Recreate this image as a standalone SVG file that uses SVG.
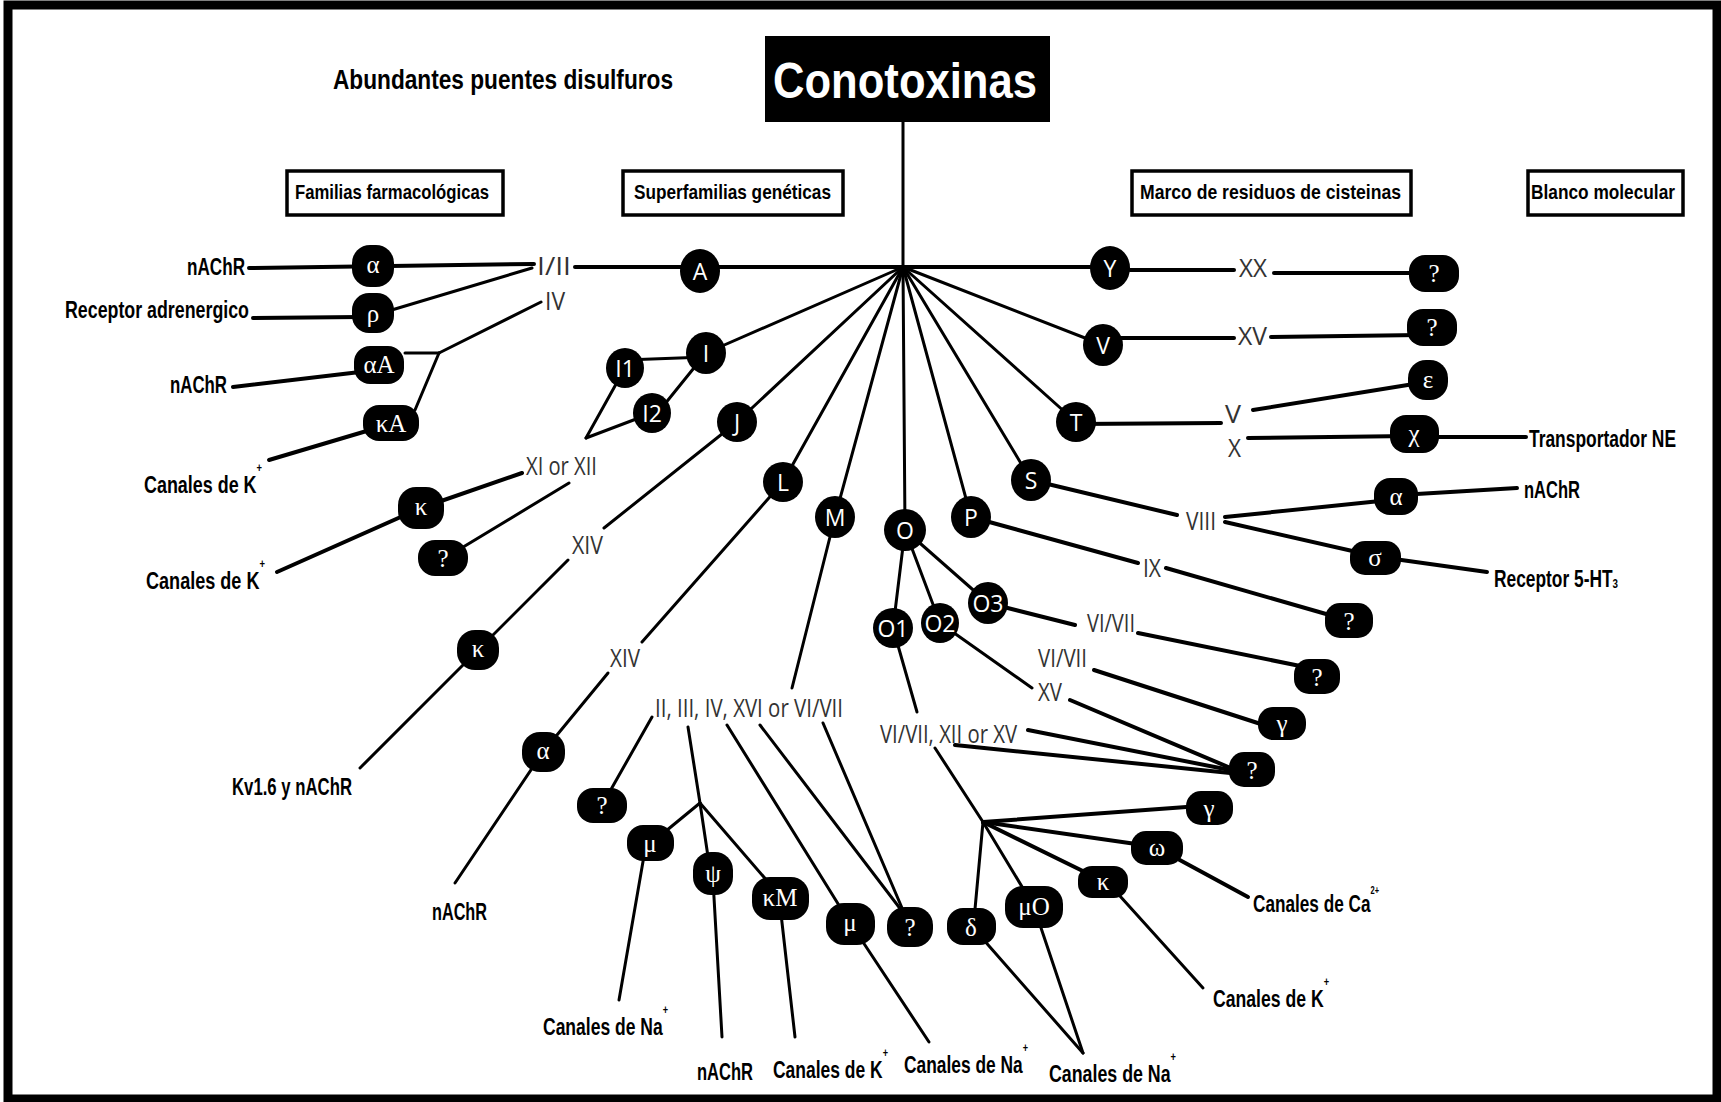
<svg xmlns="http://www.w3.org/2000/svg" width="1721" height="1102" viewBox="0 0 1721 1102">
<style>
.nd{fill:#000}
.nl{font-family:"Open Sans","Noto Sans",sans-serif;font-size:23px;fill:#fff;text-anchor:middle;dominant-baseline:central}
.ng{font-family:"Liberation Serif","Times New Roman",serif;font-size:25px;fill:#fff;text-anchor:middle;dominant-baseline:central}
.lbl{font-family:"Liberation Sans",Arial,sans-serif;font-weight:bold;font-size:23px;fill:#000}
.sp{font-size:12px}
.sp2{font-size:10px}
.sb{font-size:13px}
.rom{font-family:"Open Sans","Noto Sans",sans-serif;font-size:26px;fill:#333}
.hdr{font-family:"Liberation Sans",Arial,sans-serif;font-weight:bold;font-size:21px;fill:#000}
.big{font-family:"Liberation Sans",Arial,sans-serif;font-weight:bold;font-size:28px;fill:#000}
.hbox{fill:#fff;stroke:#000;stroke-width:3.5}
#connectors line{stroke:#000;stroke-width:3;stroke-linecap:round}
#connectors line.t{stroke-width:4}
</style>
<rect x="8" y="5" width="1709" height="1094" fill="#fff" stroke="#000" stroke-width="9"/>

<g id="title">
<rect x="765" y="36" width="285" height="86" fill="#000"/>
<text x="905" y="98" text-anchor="middle" font-family="Liberation Sans, Arial, sans-serif" font-weight="bold" font-size="50" fill="#fff" textLength="264" lengthAdjust="spacingAndGlyphs">Conotoxinas</text>
</g>
<text class="big" x="333" y="89" textLength="340" lengthAdjust="spacingAndGlyphs">Abundantes puentes disulfuros</text>

<g id="headers">
<rect class="hbox" x="287" y="171" width="216" height="44"/>
<text class="hdr" x="295" y="199" textLength="194" lengthAdjust="spacingAndGlyphs">Familias farmacológicas</text>
<rect class="hbox" x="623" y="171" width="220" height="44"/>
<text class="hdr" x="634" y="199" textLength="197" lengthAdjust="spacingAndGlyphs">Superfamilias genéticas</text>
<rect class="hbox" x="1132" y="171" width="279" height="44"/>
<text class="hdr" x="1140" y="199" textLength="261" lengthAdjust="spacingAndGlyphs">Marco de residuos de cisteinas</text>
<rect class="hbox" x="1528" y="171" width="155" height="44"/>
<text class="hdr" x="1531" y="199" textLength="144" lengthAdjust="spacingAndGlyphs">Blanco molecular</text>
</g>

<g id="connectors">
<line x1="903" y1="122" x2="903" y2="267"/>
<line class="t" x1="575" y1="267" x2="1095" y2="267"/>
<line class="t" x1="1130" y1="270" x2="1234" y2="270"/>
<line class="t" x1="1274" y1="273" x2="1412" y2="273"/>
<line class="t" x1="249" y1="268" x2="534" y2="264"/>
<line class="t" x1="253" y1="318" x2="360" y2="317"/>
<line x1="385" y1="312" x2="532" y2="268"/>
<line x1="541" y1="302" x2="439" y2="353"/>
<line x1="405" y1="353" x2="439" y2="353"/>
<line x1="439" y1="353" x2="415" y2="410"/>
<line class="t" x1="233" y1="387" x2="360" y2="372"/>
<line class="t" x1="370" y1="430" x2="269" y2="460"/>
<line x1="625" y1="368" x2="586" y2="438"/>
<line x1="652" y1="413" x2="586" y2="438"/>
<line x1="625" y1="360" x2="706" y2="357"/>
<line x1="706" y1="353" x2="660" y2="410"/>
<line x1="706" y1="353" x2="903" y2="267"/>
<line class="t" x1="522" y1="473" x2="421" y2="508"/>
<line class="t" x1="421" y1="508" x2="277" y2="572"/>
<line x1="569" y1="483" x2="450" y2="555"/>
<line x1="737" y1="422" x2="903" y2="267"/>
<line x1="737" y1="422" x2="604" y2="528"/>
<line x1="568" y1="560" x2="478" y2="650"/>
<line x1="478" y1="650" x2="360" y2="768"/>
<line x1="783" y1="482" x2="903" y2="267"/>
<line x1="783" y1="482" x2="642" y2="642"/>
<line x1="608" y1="673" x2="543" y2="752"/>
<line x1="543" y1="752" x2="455" y2="883"/>
<line x1="835" y1="517" x2="903" y2="267"/>
<line x1="835" y1="517" x2="792" y2="688"/>
<line x1="652" y1="717" x2="605" y2="800"/>
<line x1="688" y1="727" x2="700" y2="803"/>
<line x1="700" y1="803" x2="710" y2="870"/>
<line x1="700" y1="803" x2="655" y2="840"/>
<line x1="700" y1="803" x2="775" y2="890"/>
<line x1="727" y1="725" x2="845" y2="915"/>
<line x1="760" y1="725" x2="905" y2="915"/>
<line x1="823" y1="723" x2="905" y2="915"/>
<line x1="645" y1="850" x2="619" y2="1000"/>
<line x1="713" y1="880" x2="722" y2="1037"/>
<line x1="780" y1="905" x2="795" y2="1037"/>
<line x1="855" y1="930" x2="929" y2="1042"/>
<line x1="903" y1="267" x2="905" y2="530"/>
<line x1="905" y1="530" x2="893" y2="628"/>
<line x1="905" y1="530" x2="940" y2="623"/>
<line x1="905" y1="530" x2="988" y2="603"/>
<line x1="893" y1="628" x2="917" y2="712"/>
<line x1="940" y1="623" x2="1032" y2="688"/>
<line class="t" x1="988" y1="603" x2="1075" y2="625"/>
<line class="t" x1="1138" y1="633" x2="1310" y2="668"/>
<line class="t" x1="1094" y1="670" x2="1270" y2="727"/>
<line class="t" x1="1070" y1="700" x2="1240" y2="772"/>
<line class="t" x1="1028" y1="730" x2="1240" y2="772"/>
<line class="t" x1="955" y1="745" x2="1240" y2="774"/>
<line x1="935" y1="748" x2="983" y2="822"/>
<line class="t" x1="983" y1="822" x2="1200" y2="806"/>
<line class="t" x1="983" y1="822" x2="1150" y2="846"/>
<line class="t" x1="983" y1="822" x2="1095" y2="877"/>
<line x1="983" y1="822" x2="1030" y2="900"/>
<line x1="983" y1="822" x2="974" y2="920"/>
<line class="t" x1="1165" y1="852" x2="1248" y2="897"/>
<line x1="1110" y1="885" x2="1203" y2="988"/>
<line x1="975" y1="930" x2="1083" y2="1053"/>
<line x1="1035" y1="910" x2="1083" y2="1053"/>
<line x1="903" y1="267" x2="971" y2="517"/>
<line class="t" x1="971" y1="517" x2="1138" y2="563"/>
<line class="t" x1="1166" y1="568" x2="1340" y2="618"/>
<line x1="903" y1="267" x2="1031" y2="480"/>
<line class="t" x1="1031" y1="480" x2="1177" y2="515"/>
<line class="t" x1="1225" y1="517" x2="1390" y2="500"/>
<line class="t" x1="1400" y1="495" x2="1517" y2="488"/>
<line class="t" x1="1225" y1="522" x2="1370" y2="555"/>
<line class="t" x1="1380" y1="557" x2="1487" y2="572"/>
<line x1="903" y1="267" x2="1076" y2="422"/>
<line class="t" x1="1076" y1="424" x2="1221" y2="423"/>
<line class="t" x1="1253" y1="410" x2="1420" y2="383"/>
<line class="t" x1="1248" y1="438" x2="1410" y2="436"/>
<line class="t" x1="1420" y1="437" x2="1526" y2="437"/>
<line x1="903" y1="267" x2="1103" y2="345"/>
<line class="t" x1="1103" y1="338" x2="1234" y2="338"/>
<line class="t" x1="1271" y1="337" x2="1420" y2="335"/>
</g>

<g id="labels">
<text class="lbl" x="187" y="275" textLength="58" lengthAdjust="spacingAndGlyphs">nAChR</text>
<text class="lbl" x="65" y="318" textLength="184" lengthAdjust="spacingAndGlyphs">Receptor adrenergico</text>
<text class="lbl" x="170" y="393" textLength="57" lengthAdjust="spacingAndGlyphs">nAChR</text>
<text class="lbl" x="144" y="493" textLength="118" lengthAdjust="spacingAndGlyphs">Canales de K<tspan class="sp" dy="-21">+</tspan></text>
<text class="lbl" x="146" y="589" textLength="119" lengthAdjust="spacingAndGlyphs">Canales de K<tspan class="sp" dy="-21">+</tspan></text>
<text class="lbl" x="232" y="795" textLength="120" lengthAdjust="spacingAndGlyphs">Kv1.6 y nAChR</text>
<text class="lbl" x="432" y="920" textLength="55" lengthAdjust="spacingAndGlyphs">nAChR</text>
<text class="lbl" x="543" y="1035" textLength="125" lengthAdjust="spacingAndGlyphs">Canales de Na<tspan class="sp" dy="-21">+</tspan></text>
<text class="lbl" x="697" y="1080" textLength="56" lengthAdjust="spacingAndGlyphs">nAChR</text>
<text class="lbl" x="773" y="1078" textLength="115" lengthAdjust="spacingAndGlyphs">Canales de K<tspan class="sp" dy="-21">+</tspan></text>
<text class="lbl" x="904" y="1073" textLength="124" lengthAdjust="spacingAndGlyphs">Canales de Na<tspan class="sp" dy="-21">+</tspan></text>
<text class="lbl" x="1049" y="1082" textLength="127" lengthAdjust="spacingAndGlyphs">Canales de Na<tspan class="sp" dy="-21">+</tspan></text>
<text class="lbl" x="1213" y="1007" textLength="116" lengthAdjust="spacingAndGlyphs">Canales de K<tspan class="sp" dy="-21">+</tspan></text>
<text class="lbl" x="1253" y="912" textLength="126" lengthAdjust="spacingAndGlyphs">Canales de Ca<tspan class="sp2" dy="-18">2+</tspan></text>
<text class="lbl" x="1494" y="587" textLength="124" lengthAdjust="spacingAndGlyphs">Receptor 5-HT<tspan class="sb" dy="1">3</tspan></text>
<text class="lbl" x="1524" y="498" textLength="56" lengthAdjust="spacingAndGlyphs">nAChR</text>
<text class="lbl" x="1529" y="447" textLength="147" lengthAdjust="spacingAndGlyphs">Transportador NE</text>
</g>

<g id="frames">
<text class="rom" x="537" y="275" textLength="34" lengthAdjust="spacingAndGlyphs">I/II</text>
<text class="rom" x="545" y="310" textLength="20" lengthAdjust="spacingAndGlyphs">IV</text>
<text class="rom" x="526" y="475" textLength="71" lengthAdjust="spacingAndGlyphs">XI or XII</text>
<text class="rom" x="572" y="554" textLength="31" lengthAdjust="spacingAndGlyphs">XIV</text>
<text class="rom" x="610" y="667" textLength="30" lengthAdjust="spacingAndGlyphs">XIV</text>
<text class="rom" x="655" y="717" textLength="188" lengthAdjust="spacingAndGlyphs">II, III, IV, XVI or VI/VII</text>
<text class="rom" x="880" y="743" textLength="137" lengthAdjust="spacingAndGlyphs">VI/VII, XII or XV</text>
<text class="rom" x="1087" y="632" textLength="48" lengthAdjust="spacingAndGlyphs">VI/VII</text>
<text class="rom" x="1038" y="667" textLength="49" lengthAdjust="spacingAndGlyphs">VI/VII</text>
<text class="rom" x="1038" y="701" textLength="24" lengthAdjust="spacingAndGlyphs">XV</text>
<text class="rom" x="1143" y="577" textLength="18" lengthAdjust="spacingAndGlyphs">IX</text>
<text class="rom" x="1186" y="530" textLength="30" lengthAdjust="spacingAndGlyphs">VIII</text>
<text class="rom" x="1225" y="423" textLength="16" lengthAdjust="spacingAndGlyphs">V</text>
<text class="rom" x="1228" y="457" textLength="13" lengthAdjust="spacingAndGlyphs">X</text>
<text class="rom" x="1239" y="277" textLength="28" lengthAdjust="spacingAndGlyphs">XX</text>
<text class="rom" x="1238" y="345" textLength="29" lengthAdjust="spacingAndGlyphs">XV</text>
</g>

<g id="superfamilies">
<g id="nA"><ellipse class="nd" cx="700" cy="271" rx="20" ry="22"/><text class="nl" x="700" y="271">A</text></g>
<g id="nY"><ellipse class="nd" cx="1110" cy="268" rx="20" ry="22"/><text class="nl" x="1110" y="268">Y</text></g>
<g id="nV"><ellipse class="nd" cx="1103" cy="345" rx="20" ry="21"/><text class="nl" x="1103" y="345">V</text></g>
<g id="nT"><ellipse class="nd" cx="1076" cy="422" rx="20" ry="20"/><text class="nl" x="1076" y="422">T</text></g>
<g id="nS"><ellipse class="nd" cx="1031" cy="480" rx="20" ry="21"/><text class="nl" x="1031" y="480">S</text></g>
<g id="nP"><ellipse class="nd" cx="971" cy="517" rx="20" ry="21"/><text class="nl" x="971" y="517">P</text></g>
<g id="nO"><ellipse class="nd" cx="905" cy="530" rx="21" ry="21"/><text class="nl" x="905" y="530">O</text></g>
<g id="nM"><ellipse class="nd" cx="835" cy="517" rx="20" ry="21"/><text class="nl" x="835" y="517">M</text></g>
<g id="nL"><ellipse class="nd" cx="783" cy="482" rx="20" ry="20"/><text class="nl" x="783" y="482">L</text></g>
<g id="nJ"><ellipse class="nd" cx="737" cy="422" rx="20" ry="20"/><text class="nl" x="737" y="422">J</text></g>
<g id="nI"><ellipse class="nd" cx="706" cy="353" rx="20" ry="21"/><text class="nl" x="706" y="353">I</text></g>
<g id="nI1"><ellipse class="nd" cx="625" cy="368" rx="19" ry="20"/><text class="nl" x="625" y="368">I1</text></g>
<g id="nI2"><ellipse class="nd" cx="652" cy="413" rx="19" ry="20"/><text class="nl" x="652" y="413">I2</text></g>
<g id="nO1"><ellipse class="nd" cx="893" cy="628" rx="20" ry="20"/><text class="nl" x="893" y="628">O1</text></g>
<g id="nO2"><ellipse class="nd" cx="940" cy="623" rx="19" ry="20"/><text class="nl" x="940" y="623">O2</text></g>
<g id="nO3"><ellipse class="nd" cx="988" cy="603" rx="20" ry="21"/><text class="nl" x="988" y="603">O3</text></g>
</g>

<g id="families">
<g id="f-alpha1"><rect class="nd" x="352" y="245" width="42" height="42" rx="18"/><text class="ng" x="373" y="264">α</text></g>
<g id="f-rho"><rect class="nd" x="352" y="293" width="42" height="40" rx="17"/><text class="ng" x="373" y="313">ρ</text></g>
<g id="f-alphaA"><rect class="nd" x="354" y="346" width="50" height="38" rx="16"/><text class="ng" x="379" y="364">αA</text></g>
<g id="f-kappaA"><rect class="nd" x="363" y="405" width="56" height="36" rx="16"/><text class="ng" x="391" y="423">κA</text></g>
<g id="f-kappa1"><rect class="nd" x="398" y="487" width="46" height="42" rx="18"/><text class="ng" x="421" y="506">κ</text></g>
<g id="f-q1"><rect class="nd" x="418" y="540" width="50" height="36" rx="17"/><text class="ng" x="443" y="558">?</text></g>
<g id="f-kappa2"><rect class="nd" x="457" y="630" width="42" height="40" rx="18"/><text class="ng" x="478" y="648">κ</text></g>
<g id="f-alpha2"><rect class="nd" x="522" y="732" width="43" height="40" rx="18"/><text class="ng" x="543" y="750">α</text></g>
<g id="f-q2"><rect class="nd" x="577" y="788" width="50" height="35" rx="16"/><text class="ng" x="602" y="805">?</text></g>
<g id="f-mu1"><rect class="nd" x="627" y="825" width="47" height="36" rx="16"/><text class="ng" x="650" y="843">μ</text></g>
<g id="f-psi"><rect class="nd" x="693" y="852" width="40" height="43" rx="18"/><text class="ng" x="713" y="873">ψ</text></g>
<g id="f-kappaM"><rect class="nd" x="752" y="877" width="57" height="43" rx="18"/><text class="ng" x="780" y="897">κM</text></g>
<g id="f-mu2"><rect class="nd" x="826" y="903" width="49" height="42" rx="18"/><text class="ng" x="850" y="922">μ</text></g>
<g id="f-q3"><rect class="nd" x="887" y="907" width="46" height="40" rx="18"/><text class="ng" x="910" y="927">?</text></g>
<g id="f-delta"><rect class="nd" x="947" y="908" width="49" height="37" rx="16"/><text class="ng" x="971" y="927">δ</text></g>
<g id="f-muO"><rect class="nd" x="1005" y="886" width="58" height="42" rx="18"/><text class="ng" x="1034" y="906">μO</text></g>
<g id="f-kappa3"><rect class="nd" x="1078" y="866" width="50" height="32" rx="14"/><text class="ng" x="1103" y="881">κ</text></g>
<g id="f-omega"><rect class="nd" x="1131" y="831" width="52" height="34" rx="15"/><text class="ng" x="1157" y="847">ω</text></g>
<g id="f-gamma1"><rect class="nd" x="1186" y="791" width="47" height="34" rx="15"/><text class="ng" x="1209" y="808">γ</text></g>
<g id="f-q4"><rect class="nd" x="1229" y="752" width="46" height="35" rx="15"/><text class="ng" x="1252" y="770">?</text></g>
<g id="f-gamma2"><rect class="nd" x="1258" y="707" width="48" height="33" rx="15"/><text class="ng" x="1282" y="723">γ</text></g>
<g id="f-q5"><rect class="nd" x="1294" y="659" width="46" height="35" rx="15"/><text class="ng" x="1317" y="677">?</text></g>
<g id="f-q6"><rect class="nd" x="1325" y="603" width="48" height="35" rx="15"/><text class="ng" x="1349" y="621">?</text></g>
<g id="f-sigma"><rect class="nd" x="1350" y="541" width="51" height="34" rx="15"/><text class="ng" x="1375" y="557">σ</text></g>
<g id="f-alpha3"><rect class="nd" x="1374" y="478" width="44" height="37" rx="16"/><text class="ng" x="1396" y="496">α</text></g>
<g id="f-chi"><rect class="nd" x="1390" y="415" width="49" height="38" rx="16"/><text class="ng" x="1414" y="433">χ</text></g>
<g id="f-epsilon"><rect class="nd" x="1408" y="360" width="40" height="40" rx="18"/><text class="ng" x="1428" y="379">ε</text></g>
<g id="f-q7"><rect class="nd" x="1407" y="309" width="50" height="37" rx="16"/><text class="ng" x="1432" y="327">?</text></g>
<g id="f-q8"><rect class="nd" x="1409" y="255" width="50" height="37" rx="16"/><text class="ng" x="1434" y="273">?</text></g>
</g>
</svg>
